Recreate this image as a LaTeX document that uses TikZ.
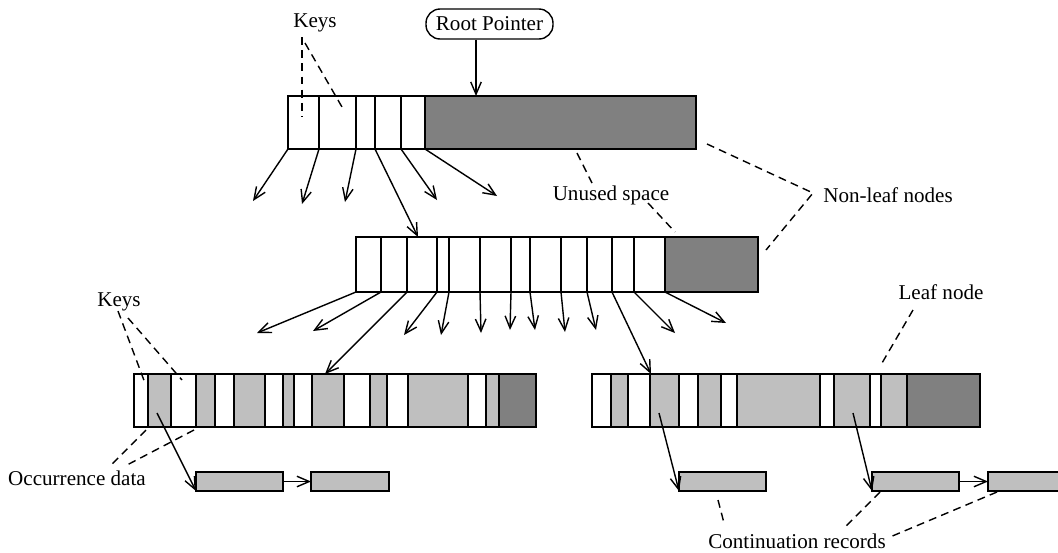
\documentclass[tikz,border=0pt]{standalone}
\usepackage{fontspec}
\setmainfont{Liberation Serif}
\usetikzlibrary{arrows.meta}
\tikzset{
  cell/.style={draw, line width=1.1pt, fill=white},
  ptr/.style={line width=0.8pt, -{Straight Barb[length=7pt,width=6pt]}},
  note/.style={line width=0.8pt, dash pattern=on 4.5pt off 3pt},
  contrec/.style={draw, line width=1.1pt, fill=gray!50, minimum width={#1*0.02cm},
    minimum height=0.38cm, inner sep=0pt, outer sep=0pt, anchor=south west},
  lbl/.style={font=\fontsize{12}{14}\selectfont, inner sep=1pt}
}
\begin{document}
\begin{tikzpicture}[x=0.02cm, y=-0.02cm]
        \useasboundingbox (0,0) rectangle (1058,552);
        \clip (0,0) rectangle (1058,552);
        %%Root pointer
        \node[lbl, draw, line width=0.8pt, rounded corners=8pt, minimum width=2.54cm,
          minimum height=0.6cm] (root) at (489.5,24) {Root Pointer};
        %%Top non-leaf node
        \foreach \a/\b/\f [count=\i from 0] in
          {288/319/white,319/356/white,356/375/white,375/401/white,401/425/white,425/696/gray}
          {\draw[cell, fill=\f] (\a,96) rectangle (\b,149);
           \coordinate (t\i) at (\a,149);}
        \coordinate (rootT) at (476,96);
        \draw[ptr] (root.south -| rootT) -- (rootT);
        %%Middle non-leaf node
        \foreach \a/\b/\f [count=\i from 0] in
          {356/381/white,381/407/white,407/437/white,437/449/white,449/480/white,
           480/511/white,511/530/white,530/561/white,561/587/white,587/612/white,
           612/634/white,634/665/white,665/758/gray}
          {\draw[cell, fill=\f] (\a,237) rectangle (\b,292);
           \coordinate (m\i) at (\a,292);}
        \coordinate (midT) at (418,237);
        %%Pointers out of the top node
        \foreach \i/\ex/\ey in {0/253/201,1/302/204,2/345/202,4/437/200,5/497/196}
          {\coordinate (te\i) at (\ex,\ey);
           \draw[ptr] (t\i) -- (te\i);}
        \draw[ptr] (t3) -- (midT);
        %%Leaf nodes
        \foreach \a/\b/\f in
          {134/148/white,148/171/gray!50,171/196/white,196/215/gray!50,215/234/white,
           234/265/gray!50,265/283/white,283/294/gray!50,294/312/white,312/344/gray!50,
           344/370/white,370/387/gray!50,387/408/white,408/468/gray!50,468/486/white,
           486/499/gray!50,499/536/gray}
          \draw[cell, fill=\f] (\a,374) rectangle (\b,427);
        \foreach \a/\b/\f in
          {592/611/white,611/628/gray!50,628/650/white,650/679/gray!50,679/698/white,
           698/721/gray!50,721/737/white,737/820/gray!50,820/834/white,834/870/gray!50,
           870/881/white,881/907/gray!50,907/980/gray}
          \draw[cell, fill=\f] (\a,374) rectangle (\b,427);
        \coordinate (leafLT) at (325,374);
        \coordinate (leafRT) at (651,374);
        %%Pointers out of the middle node
        \foreach \i/\ex/\ey in {0/257/333,1/313/331,3/404/335,4/441/335,5/481/333,
          6/510/330,7/535/330,8/565/332,9/596/330,11/675/333,12/726/323}
          {\coordinate (me\i) at (\ex,\ey);
           \draw[ptr] (m\i) -- (me\i);}
        \draw[ptr] (m2) -- (leafLT);
        \draw[ptr] (m10) -- (leafRT);
        %%Continuation records
        \node[contrec=87] (cl1) at (196,491) {};
        \node[contrec=78] (cl2) at (311,491) {};
        \node[contrec=87] (cr1) at (679,491) {};
        \node[contrec=87] (cr2) at (872,491) {};
        \node[contrec=80] (cr3) at (988,491) {};
        \draw[ptr] (cl1) -- (cl2);
        \draw[ptr] (cr2) -- (cr3);
        \coordinate (occL) at (157,413);
        \coordinate (occR1) at (659,413);
        \coordinate (occR2) at (853,413);
        \draw[ptr] (occL) -- (cl1.south west);
        \draw[ptr] (occR1) -- (cr1.south west);
        \draw[ptr] (occR2) -- (cr2.south west);
        %%Labels
        \node[lbl] (keysT) at (315,23) {Keys};
        \node[lbl] (unusedlbl) at (611,195) {Unused space};
        \node[lbl] (nonleaf) at (888,195) {Non-leaf nodes};
        \node[lbl] (leaflbl) at (941,292) {Leaf node};
        \node[lbl] (keysL) at (119,302) {Keys};
        \node[lbl] (occlbl) at (77,478) {Occurrence data};
        \node[lbl] (contlbl) at (797,541) {Continuation records};
        %%Dashed pointers
        \draw[note] (302,37) -- (302,117);
        \draw[note] (305,43) -- (342,107);
        \draw[note] (577,153) -- (592,183);
        \draw[note] (648,203) -- (675,232);
        \draw[note] (707,144) -- (813,193) -- (766,250);
        \draw[note] (913,310) -- (882,363);
        \draw[note] (118,311) -- (145,383);
        \draw[note] (128,318) -- (182,380);
        \draw[note] (146,430) -- (110,466);
        \draw[note] (194,430) -- (127,465);
        \draw[note] (718,500) -- (724,523);
        \draw[note] (880,492) -- (843,529);
        \draw[note] (997,492) -- (890,537);
\end{tikzpicture}
\end{document}
